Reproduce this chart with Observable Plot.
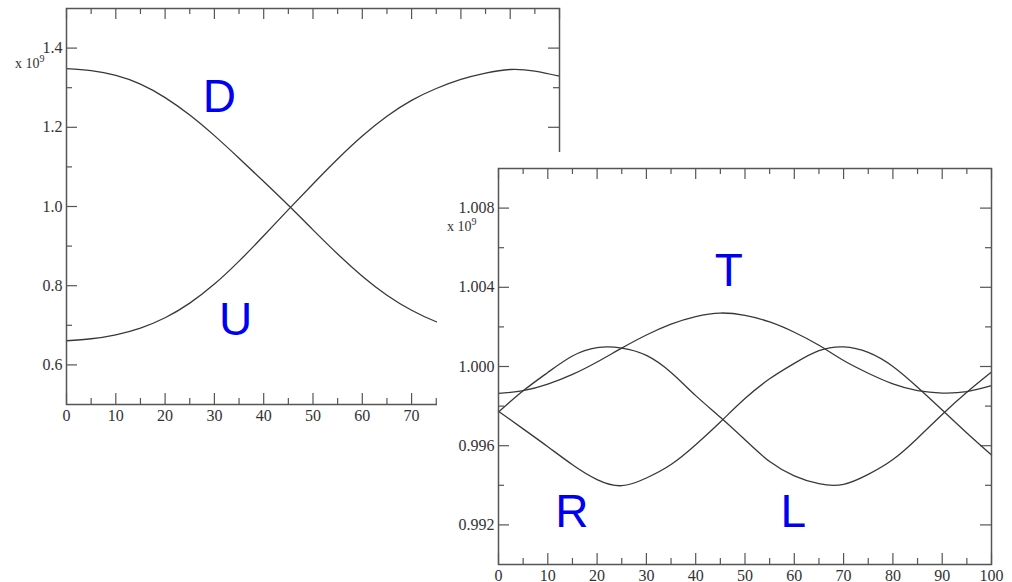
<!DOCTYPE html>
<html><head><meta charset="utf-8">
<script src="https://cdn.jsdelivr.net/npm/d3@7"></script>
<script src="https://cdn.jsdelivr.net/npm/@observablehq/plot@0.6"></script>
<style>
html,body{margin:0;padding:0;background:#fff;}
body{width:1012px;height:582px;overflow:hidden;position:relative;}
#left{position:absolute;left:0;top:0;}
#right{position:absolute;left:437px;top:152px;background:#fff;}
svg{display:block;}
</style></head><body>
<div id="left"></div><div id="right"></div>
<script>
// ---- data (values in units of 10^9) ----
const xs = [0,5,10,15,20,25,30,35,40,45,50,55,60,65,70,75,80,85,90,95,100];

const seriesU = [0.661,0.666,0.676,0.693,0.719,0.756,0.804,0.862,0.926,0.992,1.057,1.120,1.178,1.228,1.268,1.298,1.321,1.337,1.346,1.342,1.329];
const seriesD = [1.348,1.343,1.331,1.309,1.275,1.231,1.179,1.122,1.063,1.003,0.941,0.880,0.824,0.776,0.738,0.709,0.689,0.676,0.669,0.668,0.673];

const seriesT = [0.99864,0.99878,0.99911,0.99960,1.00023,1.00093,1.00159,1.00214,1.00252,1.00270,1.00258,1.00225,1.00173,1.00107,1.00030,0.99966,0.99912,0.99878,0.99866,0.99873,0.99903];
const seriesR = [0.99774,0.99685,0.99595,0.99504,0.99429,0.99398,0.99437,0.99505,0.99605,0.99720,0.99838,0.99938,1.00016,1.00080,1.00099,1.00071,1.00000,0.99895,0.99780,0.99664,0.99553];
const seriesL = [0.99770,0.99877,0.99970,1.00053,1.00095,1.00093,1.00056,0.99970,0.99853,0.99744,0.99630,0.99520,0.99448,0.99408,0.99405,0.99455,0.99530,0.99638,0.99758,0.99870,0.99972];

const xMajor = [0,10,20,30,40,50,60,70,80,90,100];
const xMinor = [5,15,25,35,45,55,65,75,85,95];
const leftYMajor = [0.6,0.8,1.0,1.2,1.4];
const leftYMinor = [0.7,0.9,1.1,1.3];
const rightYMajor = [0.992,0.996,1.000,1.004,1.008];
const rightYMinor = [0.994,0.998,1.002,1.006];

const leftNames = ["D","U"];
const leftLabelX = [31.0,34.3];
const leftLabelY = [1.277,0.712];
const rightNames = ["T","R","L"];
const rightLabelX = [46.7,14.9,59.8];
const rightLabelY = [1.00483,0.99264,0.99264];

// ---- drawing ----
const PW = 493, PH = 396;
const MAJ = 11, MIN = 6;
const axisColor = "#555";
const lineColor = "#383838";

function panel(opts) {
  const {series, yDomain, yMajor, yMinor, yFmt, labels, ml, mt, mr, mb, expY} = opts;
  const rows = series.flatMap(s => s.values.map((v, i) => ({x: xs[i], y: v, name: s.name})));
  const tickStyle = {stroke: axisColor, strokeWidth: 1.2};
  const svg = Plot.plot({
    width: ml + PW + mr,
    height: mt + PH + mb,
    marginLeft: ml, marginTop: mt, marginRight: mr, marginBottom: mb,
    style: {fontFamily: "'Liberation Serif', serif", fontSize: "16px", color: "#333", background: "white", overflow: "visible"},
    x: {domain: [0, 100], ticks: xMajor, tickSize: 0, tickPadding: 5, tickFormat: d3.format("d"), label: null},
    y: {domain: yDomain, ticks: yMajor, tickSize: 0, tickPadding: 4, tickFormat: d3.format(yFmt), label: null},
    marks: [
      Plot.ruleX(xMajor, {x: d => d, insetTop: PH - MAJ, ...tickStyle}),
      Plot.ruleX(xMajor, {x: d => d, insetBottom: PH - MAJ, ...tickStyle}),
      Plot.ruleX(xMinor, {x: d => d, insetTop: PH - MIN, ...tickStyle}),
      Plot.ruleX(xMinor, {x: d => d, insetBottom: PH - MIN, ...tickStyle}),
      Plot.ruleY(yMajor, {y: d => d, insetRight: PW - MAJ, ...tickStyle}),
      Plot.ruleY(yMajor, {y: d => d, insetLeft: PW - MAJ, ...tickStyle}),
      Plot.ruleY(yMinor, {y: d => d, insetRight: PW - MIN, ...tickStyle}),
      Plot.ruleY(yMinor, {y: d => d, insetLeft: PW - MIN, ...tickStyle}),
      Plot.line(rows, {x: "x", y: "y", z: "name", stroke: lineColor, strokeWidth: 1.3, curve: "natural"}),
      Plot.frame({stroke: axisColor, strokeWidth: 1.5}),
      Plot.text(labels, {x: "x", y: "y", text: "t", fill: "#0000f0", fontSize: 46,
        fontFamily: "'Liberation Sans', Arial, sans-serif", textAnchor: "middle", lineAnchor: "middle"})
    ]
  });
  // "x 10^9" multiplier label under the top tick label
  const t = d3.select(svg).append("text")
    .attr("x", ml - 51).attr("y", mt + expY)
    .attr("text-anchor", "start")
    .attr("font-family", "'Liberation Serif', serif")
    .attr("font-size", 14).attr("fill", "#333");
  t.append("tspan").text("x 10");
  t.append("tspan").attr("font-size", 10).attr("dy", -6).text("9");
  return svg;
}

const leftLabels = leftNames.map((t, i) => ({t, x: leftLabelX[i], y: leftLabelY[i]}));
const rightLabels = rightNames.map((t, i) => ({t, x: rightLabelX[i], y: rightLabelY[i]}));

document.getElementById("left").append(panel({
  series: [{name: "D", values: seriesD}, {name: "U", values: seriesU}],
  yDomain: [0.5, 1.5], yMajor: leftYMajor, yMinor: leftYMinor, yFmt: ".1f",
  labels: leftLabels, ml: 66, mt: 8, mr: 20, mb: 30, expY: 60
}));

document.getElementById("right").append(panel({
  series: [{name: "T", values: seriesT}, {name: "R", values: seriesR}, {name: "L", values: seriesL}],
  yDomain: [0.990, 1.010], yMajor: rightYMajor, yMinor: rightYMinor, yFmt: ".3f",
  labels: rightLabels, ml: 61, mt: 16, mr: 21, mb: 18, expY: 63
}));
</script>
</body></html>
